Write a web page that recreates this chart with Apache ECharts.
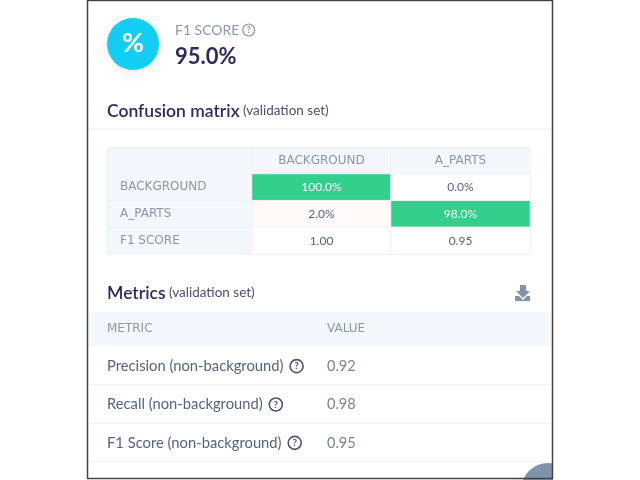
<!DOCTYPE html>
<html>
<head>
<meta charset="utf-8">
<script src="https://cdn.jsdelivr.net/npm/echarts@6/dist/echarts.min.js"></script>
<style>html,body{margin:0;padding:0;background:#fff}#main{width:640px;height:480px}</style>
</head>
<body>
<div id="main"></div>
<script>
var f1Label = 'F1 SCORE';
var f1Value = '95.0%';
var matrixCols = ['BACKGROUND', 'A_PARTS'];
var matrixRows = ['BACKGROUND', 'A_PARTS', 'F1 SCORE'];
var matrixPct = [[100.0, 0.0], [2.0, 98.0]];
var matrixF1 = [1.00, 0.95];
var metricNames = ['Precision (non-background)', 'Recall (non-background)', 'F1 Score (non-background)'];
var metricValues = [0.92, 0.98, 0.95];
var metricHeaders = ['METRIC', 'VALUE'];

var FONT = 'Lato';
var CAPS = 'DejaVu Sans';
var DARK = '#2b2c5c', TEXT = '#56637e', MUTED = '#8a97ac', LINE = '#edf0f4', BAND = '#f4f7fb', GREEN = '#32d08c';

function cellColor(v) {
    if (v >= 50) return GREEN;
    if (v > 0) return '#fdf9f9';
    return '#ffffff';
}

var matrixData = [];
matrixPct.forEach(function (row, r) {
    row.forEach(function (v, c) {
        matrixData.push({
            value: [c, r, v],
            itemStyle: { color: cellColor(v) },
            label: { formatter: v.toFixed(1) + '%', color: v >= 50 ? '#ffffff' : TEXT }
        });
    });
});
matrixF1.forEach(function (v, c) {
    matrixData.push({
        value: [c, 2, v],
        itemStyle: { color: '#ffffff' },
        label: { formatter: v.toFixed(2), color: TEXT }
    });
});

function helpRich(size) {
    return {
        width: size, height: size, lineHeight: size, align: 'center',
        borderRadius: size / 2, borderWidth: 1.6, borderColor: '#4a5570',
        color: '#4a5570', fontSize: size - 3, fontFamily: FONT, fontWeight: 'bold'
    };
}

var myChart = echarts.init(document.getElementById('main'));
var option = {
    animation: false,
    backgroundColor: '#ffffff',
    grid: [
        { left: 252, top: 174, width: 278, height: 80, containLabel: false },
        { left: 327, top: 347, width: 224, height: 115 }
    ],
    xAxis: [{
        gridIndex: 0, type: 'category', position: 'top', data: matrixCols,
        axisLine: { show: false }, axisTick: { show: false },
        axisLabel: { color: MUTED, fontFamily: CAPS, fontSize: 12, margin: 7 }
    }, {
        gridIndex: 1, type: 'value', min: 0, max: 1, show: false
    }],
    yAxis: [{
        gridIndex: 0, type: 'category', inverse: true, data: matrixRows,
        axisLine: { show: false }, axisTick: { show: false },
        axisLabel: { color: MUTED, fontFamily: CAPS, fontSize: 12, align: 'left', margin: 132 }
    }, {
        gridIndex: 1, type: 'category', inverse: true, data: metricNames,
        axisLine: { show: false }, axisTick: { show: false },
        splitLine: { show: false },
        axisLabel: {
            align: 'left', margin: 220,
            formatter: function (name) { return '{n|' + name + '}  {q|?}'; },
            rich: {
                n: { color: TEXT, fontFamily: FONT, fontSize: 14.75 },
                q: helpRich(13)
            }
        }
    }],
    series: [{
        type: 'heatmap', xAxisIndex: 0, yAxisIndex: 0, data: matrixData,
        itemStyle: { borderColor: LINE, borderWidth: 1 },
        label: { show: true, fontFamily: FONT, fontSize: 12 },
        emphasis: { disabled: true }
    }, {
        type: 'scatter', xAxisIndex: 1, yAxisIndex: 1, symbolSize: 0,
        data: metricValues.map(function (v, i) { return [0, i]; }),
        label: {
            show: true, position: 'right', distance: 0, color: TEXT,
            fontFamily: FONT, fontSize: 14.5,
            formatter: function (p) { return metricValues[p.dataIndex].toFixed(2); }
        }
    }],
    graphic: [
        // corner badge, then the page around the card
        { type: 'circle', z: 1, shape: { cx: 548, cy: 490, r: 27 }, style: { fill: '#7f93ab' } },
        { type: 'rect', z: 2, shape: { x: 553, y: 440, width: 87, height: 40 }, style: { fill: '#fff' } },
        { type: 'rect', z: 2, shape: { x: 87.5, y: 0.5, width: 465, height: 478 }, style: { fill: 'none', stroke: '#444', lineWidth: 1.5 } },

        { type: 'circle', z: 3, shape: { cx: 133, cy: 44, r: 26 }, style: { fill: '#13cdf3', shadowBlur: 14, shadowColor: 'rgba(40,60,90,0.10)', shadowOffsetY: 2 } },
        { type: 'text', z: 4, x: 133, y: 43, style: { text: '%', fill: '#fff', font: 'bold 27px ' + FONT, align: 'center', verticalAlign: 'middle' } },
        { type: 'text', z: 4, x: 175, y: 30, style: {
            text: '{a|' + f1Label + '} {q|?}', verticalAlign: 'middle',
            rich: { a: { fill: MUTED, fontFamily: FONT, fontSize: 14 }, q: { width: 12, height: 12, lineHeight: 12, align: 'center', borderRadius: 6, borderWidth: 1.2, borderColor: MUTED, fill: MUTED, fontSize: 9, fontFamily: FONT, fontWeight: 'bold' } }
        } },
        { type: 'text', z: 4, x: 175, y: 57, style: { text: f1Value, fill: DARK, font: 'bold 22px ' + FONT, verticalAlign: 'middle' } },

        { type: 'text', z: 4, x: 107, y: 111, style: {
            text: '{a|Confusion matrix} {b|(validation set)}', verticalAlign: 'middle',
            rich: { a: { fill: DARK, fontFamily: FONT, fontSize: 17.5, fontWeight: 600 }, b: { fill: '#4a4f70', fontFamily: FONT, fontSize: 13.5 } }
        } },
        { type: 'line', z: 1, shape: { x1: 89, y1: 129, x2: 552, y2: 129 }, style: { stroke: '#f3f4f7', lineWidth: 1.5 } },

        // matrix header band and first column
        { type: 'rect', z: 0, shape: { x: 108, y: 147, width: 422, height: 27 }, style: { fill: BAND } },
        { type: 'rect', z: 0, shape: { x: 108, y: 174, width: 144, height: 80 }, style: { fill: BAND } },
        { type: 'rect', z: 1, shape: { x: 107.5, y: 147.5, width: 422.5, height: 106.5 }, style: { fill: 'none', stroke: LINE, lineWidth: 1 } },
        { type: 'line', z: 1, shape: { x1: 252, y1: 147, x2: 252, y2: 254 }, style: { stroke: LINE } },
        { type: 'line', z: 1, shape: { x1: 390.5, y1: 147, x2: 390.5, y2: 174 }, style: { stroke: LINE } },
        { type: 'line', z: 1, shape: { x1: 108, y1: 200.5, x2: 252, y2: 200.5 }, style: { stroke: LINE } },
        { type: 'line', z: 1, shape: { x1: 108, y1: 227.5, x2: 252, y2: 227.5 }, style: { stroke: LINE } },

        { type: 'text', z: 4, x: 107, y: 293, style: {
            text: '{a|Metrics} {b|(validation set)}', verticalAlign: 'middle',
            rich: { a: { fill: DARK, fontFamily: FONT, fontSize: 17.5, fontWeight: 600 }, b: { fill: '#4a4f70', fontFamily: FONT, fontSize: 13.5 } }
        } },
        // download icon
        { type: 'polygon', z: 4, shape: { points: [[520, 285], [526, 285], [526, 291], [530, 291], [523, 298], [516, 291], [520, 291]] }, style: { fill: '#7f93ab' } },
        { type: 'polygon', z: 4, shape: { points: [[515, 296], [519, 296], [523, 300], [527, 296], [530, 296], [530, 301], [515, 301]] }, style: { fill: '#7f93ab' } },

        // metrics table header and row rules
        { type: 'rect', z: 0, shape: { x: 89, y: 312, width: 462, height: 34 }, style: { fill: BAND } },
        { type: 'text', z: 4, x: 107, y: 329, style: { text: metricHeaders[0], fill: MUTED, font: '12px ' + CAPS, verticalAlign: 'middle' } },
        { type: 'text', z: 4, x: 327, y: 329, style: { text: metricHeaders[1], fill: MUTED, font: '12px ' + CAPS, verticalAlign: 'middle' } },
        { type: 'line', z: 1, shape: { x1: 89, y1: 384.5, x2: 551, y2: 384.5 }, style: { stroke: '#f1f3f6' } },
        { type: 'line', z: 1, shape: { x1: 89, y1: 423.5, x2: 551, y2: 423.5 }, style: { stroke: '#f1f3f6' } },
        { type: 'line', z: 1, shape: { x1: 89, y1: 461.5, x2: 551, y2: 461.5 }, style: { stroke: '#f1f3f6' } }
    ]
};
myChart.setOption(option);
</script>
</body>
</html>
